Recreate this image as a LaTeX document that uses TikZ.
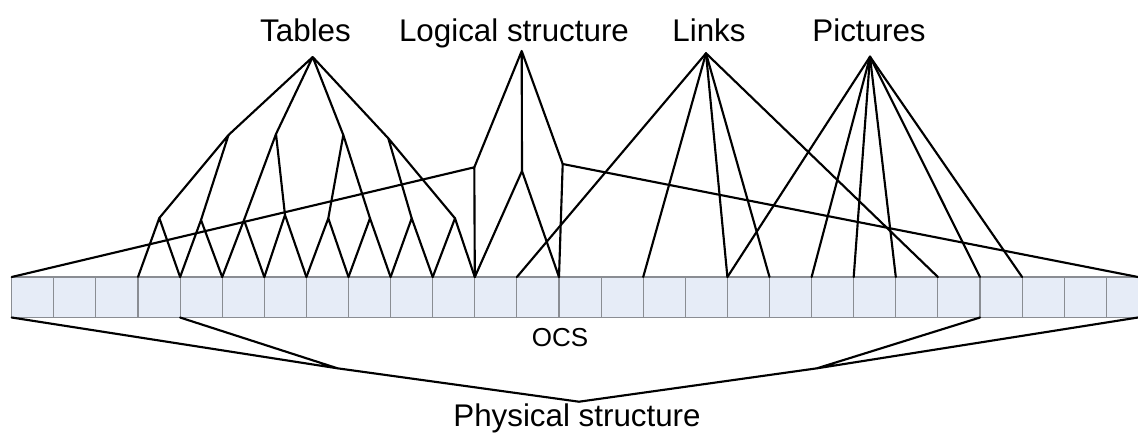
\documentclass[tikz,border=0pt]{standalone}
\usepackage{fontspec}
\setmainfont{Liberation Sans}
\definecolor{stripfill}{HTML}{E6ECF7}
\definecolor{cellline}{HTML}{8A8D93}
\begin{document}
\begin{tikzpicture}[x=0.75pt,y=-0.75pt,
  link/.style={line width=1.6pt, black, line join=round, line cap=round},
  cell/.style={draw=cellline, line width=0.8pt},
  lbl/.style={font=\fontsize{23.5}{28}\selectfont, inner sep=0pt, anchor=base},
  smalllbl/.style={font=\fontsize{19.5}{23}\selectfont, inner sep=0pt, anchor=base}]
\useasboundingbox (0,0) rectangle (1138,437);

% the OCS strip of cells
\fill[stripfill] (11.7,277) rectangle (1138,317.5);
\foreach \k in {0,...,26} {
  \coordinate (u\k) at ({11.7+42.1*\k},277);
  \coordinate (d\k) at ({11.7+42.1*\k},317.5);
  \draw[cell] (u\k) -- (d\k);
}
\coordinate (uR) at (1138,277);
\coordinate (dR) at (1138,317.5);
\draw[cell] (u0) -- (uR) (d0) -- (dR);

% labels
\node[lbl] (tablesL)   at (305.5,41.5) {Tables};
\node[lbl] (logicalL)  at (514,41)     {Logical structure};
\node[lbl] (linksL)    at (709,41)     {Links};
\node[lbl] (picturesL) at (869,41.5)   {Pictures};
\node[smalllbl] (ocsL) at (560,346.7)  {OCS};
\node[lbl] (physL)     at (577,426)    {Physical structure};

% tables tree
\coordinate (T) at (312.7,57);
\coordinate (A) at (228.5,135);
\coordinate (B) at (276,134);
\coordinate (C) at (343.3,135);
\coordinate (D) at (388.3,138.3);
\coordinate (t0) at (159.3,218);
\coordinate (t1) at (201,220);
\coordinate (t2) at (244,220);
\coordinate (t3) at (285,215);
\coordinate (t4) at (328.3,218.3);
\coordinate (t5) at (370,218.3);
\coordinate (t6) at (411.7,218.3);
\coordinate (t7) at (455,218.3);
\draw[link] (T) -- (A) (T) -- (B) (T) -- (C) (T) -- (D);
\draw[link] (A) -- (t0) (A) -- (t1) (B) -- (t2) (B) -- (t3)
            (C) -- (t4) (C) -- (t5) (D) -- (t6) (D) -- (t7);
\foreach \i [evaluate=\i as \a using int(\i+3), evaluate=\i as \b using int(\i+4)] in {0,...,7}
  \draw[link] (u\a) -- (t\i) -- (u\b);

% logical structure tree
\coordinate (L) at (521.7,51);
\coordinate (Ll) at (474.3,167.3);
\coordinate (Lm) at (522,171);
\coordinate (Lr) at (562.7,164);
\draw[link] (L) -- (Ll) (L) -- (Lm) (L) -- (Lr);
\draw[link] (u0) -- (Ll) -- (u11);
\draw[link] (u11) -- (Lm) -- (u13);
\draw[link] (u13) -- (Lr) -- (uR);

% links
\coordinate (K) at (706,53.3);
\foreach \k in {12,15,17,18,22}
  \draw[link] (K) -- (u\k);

% pictures
\coordinate (P) at (870,56.7);
\foreach \k in {17,19,20,21,23,24}
  \draw[link] (P) -- (u\k);

% physical structure
\coordinate (J1) at (337.5,368.3);
\coordinate (J2) at (817,368.3);
\coordinate (Ph) at (579,401.7);
\draw[link] (d0) -- (J1) (d4) -- (J1);
\draw[link] (J1) -- (Ph) -- (J2);
\draw[link] (d23) -- (J2) (dR) -- (J2);
\end{tikzpicture}
\end{document}
